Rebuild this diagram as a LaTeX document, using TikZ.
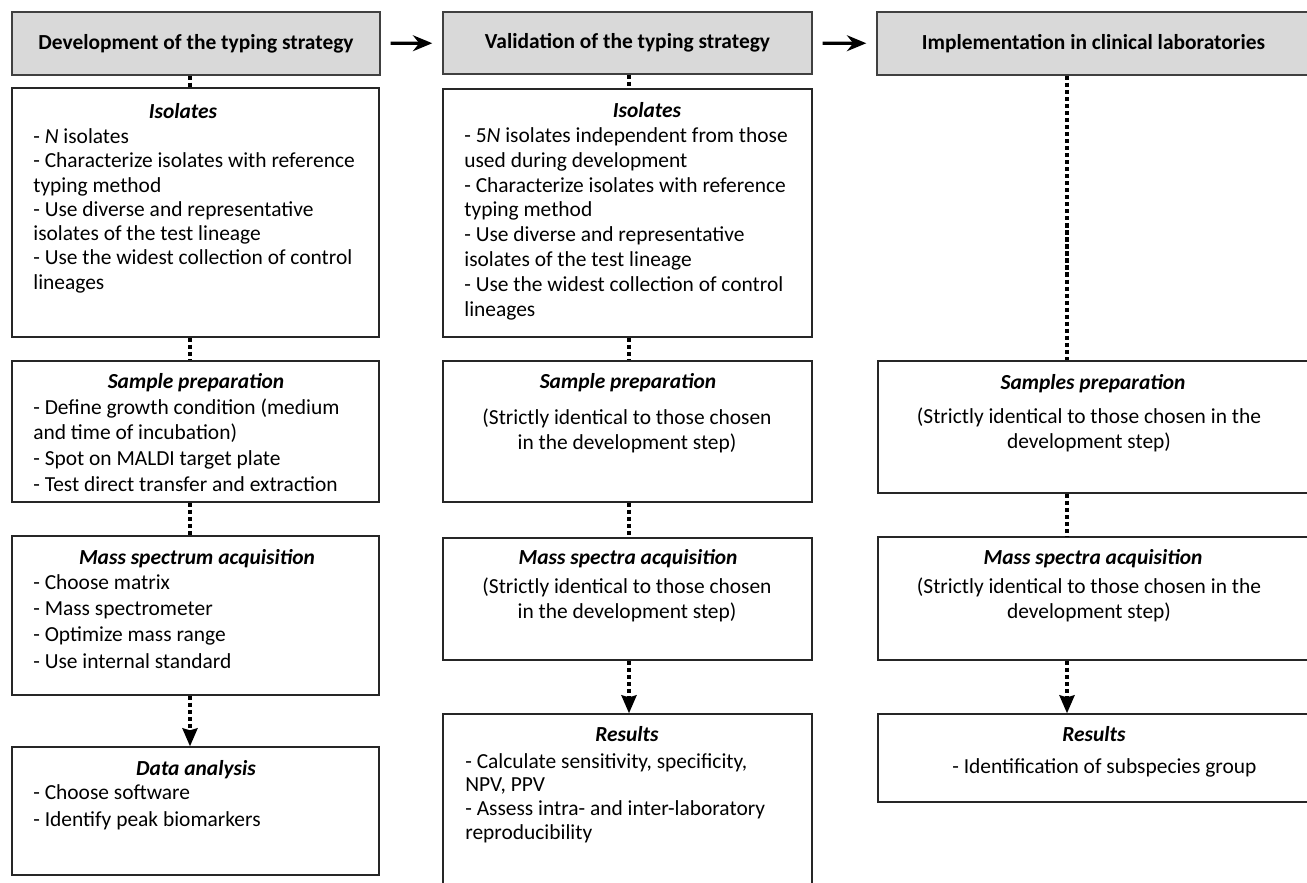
\documentclass[tikz,border=0pt]{standalone}
\usepackage{fontspec}
\setmainfont{Carlito}
\usetikzlibrary{arrows.meta}
\newlength\px
\setlength\px{0.02cm}
\newcommand\boxfont{\fontsize{12.2pt}{14.2pt}\selectfont}

\begin{document}
\begin{tikzpicture}[x=0.02cm, y=-0.02cm,
  header/.style={draw=black!75, line width=0.8pt, fill=black!15, font=\boxfont\bfseries, inner sep=0pt},
  panel/.style={draw=black!85, line width=0.8pt, inner sep=0pt},
  ptitle/.style={anchor=base, inner sep=0pt, font=\boxfont\bfseries\itshape},
  pbody/.style={anchor=base west, align=left, inner sep=0pt, font=\fontsize{12.2pt}{#1}\selectfont},
  pbody/.default=14.2pt,
  pnote/.style={anchor=base, align=center, inner sep=0pt, font=\fontsize{12.2pt}{#1}\selectfont},
  pnote/.default=14.2pt,
  link/.style={line width=2pt, dash pattern=on 2.4pt off 1.6pt},
  drop/.style={link, -{Stealth[length=10.2pt, width=8.5pt, inset=1.1pt]}},
  flow/.style={line width=1.8pt, -{Stealth[length=11pt, width=9pt]}, shorten <=5.7pt, shorten >=5.7pt}
]
\useasboundingbox (0,0) rectangle (1307,882);
\clip (0,0) rectangle (1307,882);

% Headers
\node[header, minimum width=368\px, minimum height=63\px] (hdrA) at (196,43.5) {Development of the typing strategy};
\node[header, minimum width=369\px, minimum height=62\px] (hdrB) at (627.5,43) {Validation of the typing strategy};
\node[header, minimum width=433\px, minimum height=63\px] (hdrC) at (1093.5,43.5) {Implementation in clinical laboratories};
\draw[flow] (hdrA) -- (hdrB);
\draw[flow] (hdrB) -- (hdrC);

% Development (bodies placed by their last baseline)
\node[panel, minimum width=367\px, minimum height=249\px] (isoA) at (195.5,212.5) {};
\node[panel, minimum width=367\px, minimum height=141\px] (sampA) at (195.5,431.5) {};
\node[panel, minimum width=367\px, minimum height=159\px] (massA) at (195.5,615.5) {};
\node[panel, minimum width=367\px, minimum height=128\px] (dataA) at (195.5,811) {};

\node[ptitle] (isoAt) at (183,118) {Isolates};
\node[pbody=13.8pt] (isoAb) at (33,289) {- \textit{N} isolates\\- Characterize isolates with reference\\typing method\\- Use diverse and representative\\isolates of the test lineage\\- Use the widest collection of control\\lineages};
\node[ptitle] (sampAt) at (196,388) {Sample preparation};
\node[pbody=14.6pt] (sampAb) at (33,491) {- Define growth condition (medium\\and time of incubation)\\- Spot on MALDI target plate\\- Test direct transfer and extraction};
\node[ptitle] (massAt) at (197,564) {Mass spectrum acquisition};
\node[pbody=14.9pt] (massAb) at (33,668) {- Choose matrix\\- Mass spectrometer\\- Optimize mass range\\- Use internal standard};
\node[ptitle] (dataAt) at (196,775) {Data analysis};
\node[pbody=15.3pt] (dataAb) at (33,826) {- Choose software\\- Identify peak biomarkers};

% Validation
\node[panel, minimum width=369\px, minimum height=248\px] (isoB) at (627.5,213) {};
\node[panel, minimum width=369\px, minimum height=141\px] (sampB) at (627.5,431.5) {};
\node[panel, minimum width=369\px, minimum height=122\px] (massB) at (627.5,599) {};
\node[panel, minimum width=369\px, minimum height=186\px] (resB) at (627.5,807) {};

\node[ptitle] (isoBt) at (647,117) {Isolates};
\node[pbody=14.1pt] (isoBb) at (464,316) {- 5\textit{N} isolates independent from those\\used during development\\- Characterize isolates with reference\\typing method\\- Use diverse and representative\\isolates of the test lineage\\- Use the widest collection of control\\lineages};
\node[ptitle] (sampBt) at (628,388) {Sample preparation};
\node[pnote] (sampBb) at (627,449) {(Strictly identical to those chosen\\in the development step)};
\node[ptitle] (massBt) at (628,564) {Mass spectra acquisition};
\node[pnote] (massBb) at (627,618) {(Strictly identical to those chosen\\in the development step)};
\node[ptitle] (resBt) at (627,741) {Results};
\node[pbody=13.4pt] (resBb) at (465,839) {- Calculate sensitivity, specificity,\\NPV, PPV\\- Assess intra- and inter-laboratory\\reproducibility};

% Implementation
\node[panel, minimum width=432\px, minimum height=132\px] (sampC) at (1094,427) {};
\node[panel, minimum width=432\px, minimum height=123\px] (massC) at (1094,598.5) {};
\node[panel, minimum width=432\px, minimum height=88\px] (resC) at (1094,758) {};

\node[ptitle] (sampCt) at (1093,389) {Samples preparation};
\node[pnote] (sampCb) at (1089,448) {(Strictly identical to those chosen in the\\development step)};
\node[ptitle] (massCt) at (1093,564) {Mass spectra acquisition};
\node[pnote] (massCb) at (1089,618) {(Strictly identical to those chosen in the\\development step)};
\node[ptitle] (resCt) at (1094,741) {Results};
\node[pbody] (resCb) at (952,773) {- Identification of subspecies group};

% Links
\coordinate (lineA) at (190,0);
\coordinate (lineB) at (629,0);
\coordinate (lineC) at (1067,0);
\draw[link] (hdrA.south -| lineA) -- (isoA.north -| lineA);
\draw[link] (isoA.south -| lineA) -- (sampA.north -| lineA);
\draw[link] (sampA.south -| lineA) -- (massA.north -| lineA);
\draw[drop] (massA.south -| lineA) -- (dataA.north -| lineA);
\draw[link] (hdrB.south -| lineB) -- (isoB.north -| lineB);
\draw[link] (isoB.south -| lineB) -- (sampB.north -| lineB);
\draw[link] (sampB.south -| lineB) -- (massB.north -| lineB);
\draw[drop] (massB.south -| lineB) -- (resB.north -| lineB);
\draw[link] (hdrC.south -| lineC) -- (sampC.north -| lineC);
\draw[link] (sampC.south -| lineC) -- (massC.north -| lineC);
\draw[drop] (massC.south -| lineC) -- (resC.north -| lineC);

\end{tikzpicture}
\end{document}
